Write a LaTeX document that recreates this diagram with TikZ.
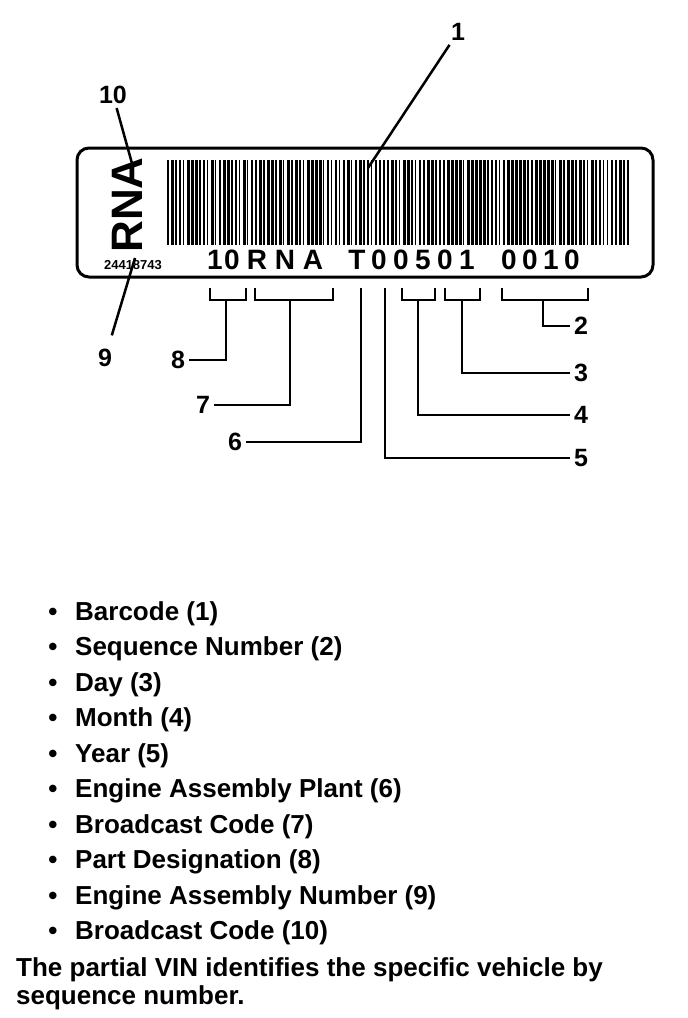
\documentclass[tikz,border=0pt]{standalone}
\usepackage{fontspec}
\setmainfont{Liberation Sans}
\usepackage{tikz}

\begin{document}
\begin{tikzpicture}[x=1pt,y=-1pt,
	callout/.style={font=\fontsize{25}{25}\selectfont\bfseries,inner sep=4pt},
	leader/.style={line width=2.5pt},
	vinchar/.style={font=\fontsize{28}{28}\selectfont\bfseries,inner sep=0pt},
	listentry/.style={font=\fontsize{26}{30}\selectfont\bfseries,inner sep=0pt,anchor=base west}]
	\fill[white] (0,0) rectangle (688,1018);
	\draw[line width=3pt,rounded corners=12pt] (77,148) rectangle (653,277);
	\pgfmathsetseed{12}
	\foreach \i in {0,...,115} {
		\pgfmathsetmacro{\bw}{random(2,6)/2}
		\fill (167+4*\i,160) rectangle ++(\bw,85);
	}
	\node[font=\fontsize{44}{44}\selectfont\bfseries,rotate=90,inner sep=0pt] (rna) at (127,205) {RNA};
	\node[font=\fontsize{13}{13}\selectfont\bfseries,inner sep=0pt] (partno) at (133,265) {24418743};
	\foreach \c/\x in {1/215,0/232,R/257,N/285,A/313,T/357,0/379,0/401,5/423,0/445,1/467,0/509,0/530,1/551,0/572}
		\node[vinchar] (vin\x) at (\x,260) {\c};
	\foreach \a/\b in {210/246,255/333,402/435,445/480,502/588}
		\draw[leader] (\a,288) -- (\a,300) -- (\b,300) -- (\b,288);

	\node[callout] (n1) at (458,32) {1};
	\node[callout] (n10) at (113,95) {10};
	\node[callout] (n9) at (105,358) {9};
	\node[callout] (n8) at (178,360) {8};
	\node[callout] (n7) at (203,405) {7};
	\node[callout] (n6) at (235,442) {6};
	\node[callout] (n2) at (581,326) {2};
	\node[callout] (n3) at (581,373) {3};
	\node[callout] (n4) at (581,415) {4};
	\node[callout] (n5) at (581,458) {5};

	\coordinate (p1) at (368,168);
	\coordinate (p10) at (133,167);
	\coordinate (p9) at (135,258);
	\coordinate (p8) at (226,300);
	\coordinate (p7) at (290,300);
	\coordinate (p6) at (361,288);
	\coordinate (p5) at (385,288);
	\coordinate (p4) at (418,300);
	\coordinate (p3) at (462,300);
	\coordinate (p2) at (543,300);

	\draw[leader] (n1) -- (p1);
	\draw[leader] (n10) -- (p10);
	\draw[leader,shorten >=10pt] (p9) -- (n9);
	\draw[leader] (p8) |- (n8);
	\draw[leader] (p7) |- (n7);
	\draw[leader] (p6) |- (n6);
	\draw[leader] (p5) |- (n5);
	\draw[leader] (p4) |- (n4);
	\draw[leader] (p3) |- (n3);
	\draw[leader] (p2) |- (n2);

	\foreach \t [count=\i] in {Barcode (1),Sequence Number (2),Day (3),Month (4),Year (5),Engine Assembly Plant (6),Broadcast Code (7),Part Designation (8),Engine Assembly Number (9),Broadcast Code (10)} {
		\node[listentry,anchor=base] (dot\i) at (53,{620+35.5*(\i-1)}) {\textbullet};
		\node[listentry] (entry\i) at (75,{620+35.5*(\i-1)}) {\t};
	}
	\node[listentry] (note1) at (16,976) {The partial VIN identifies the specific vehicle by};
	\node[listentry] (note2) at (16,1004) {sequence number.};
\end{tikzpicture}
\end{document}
